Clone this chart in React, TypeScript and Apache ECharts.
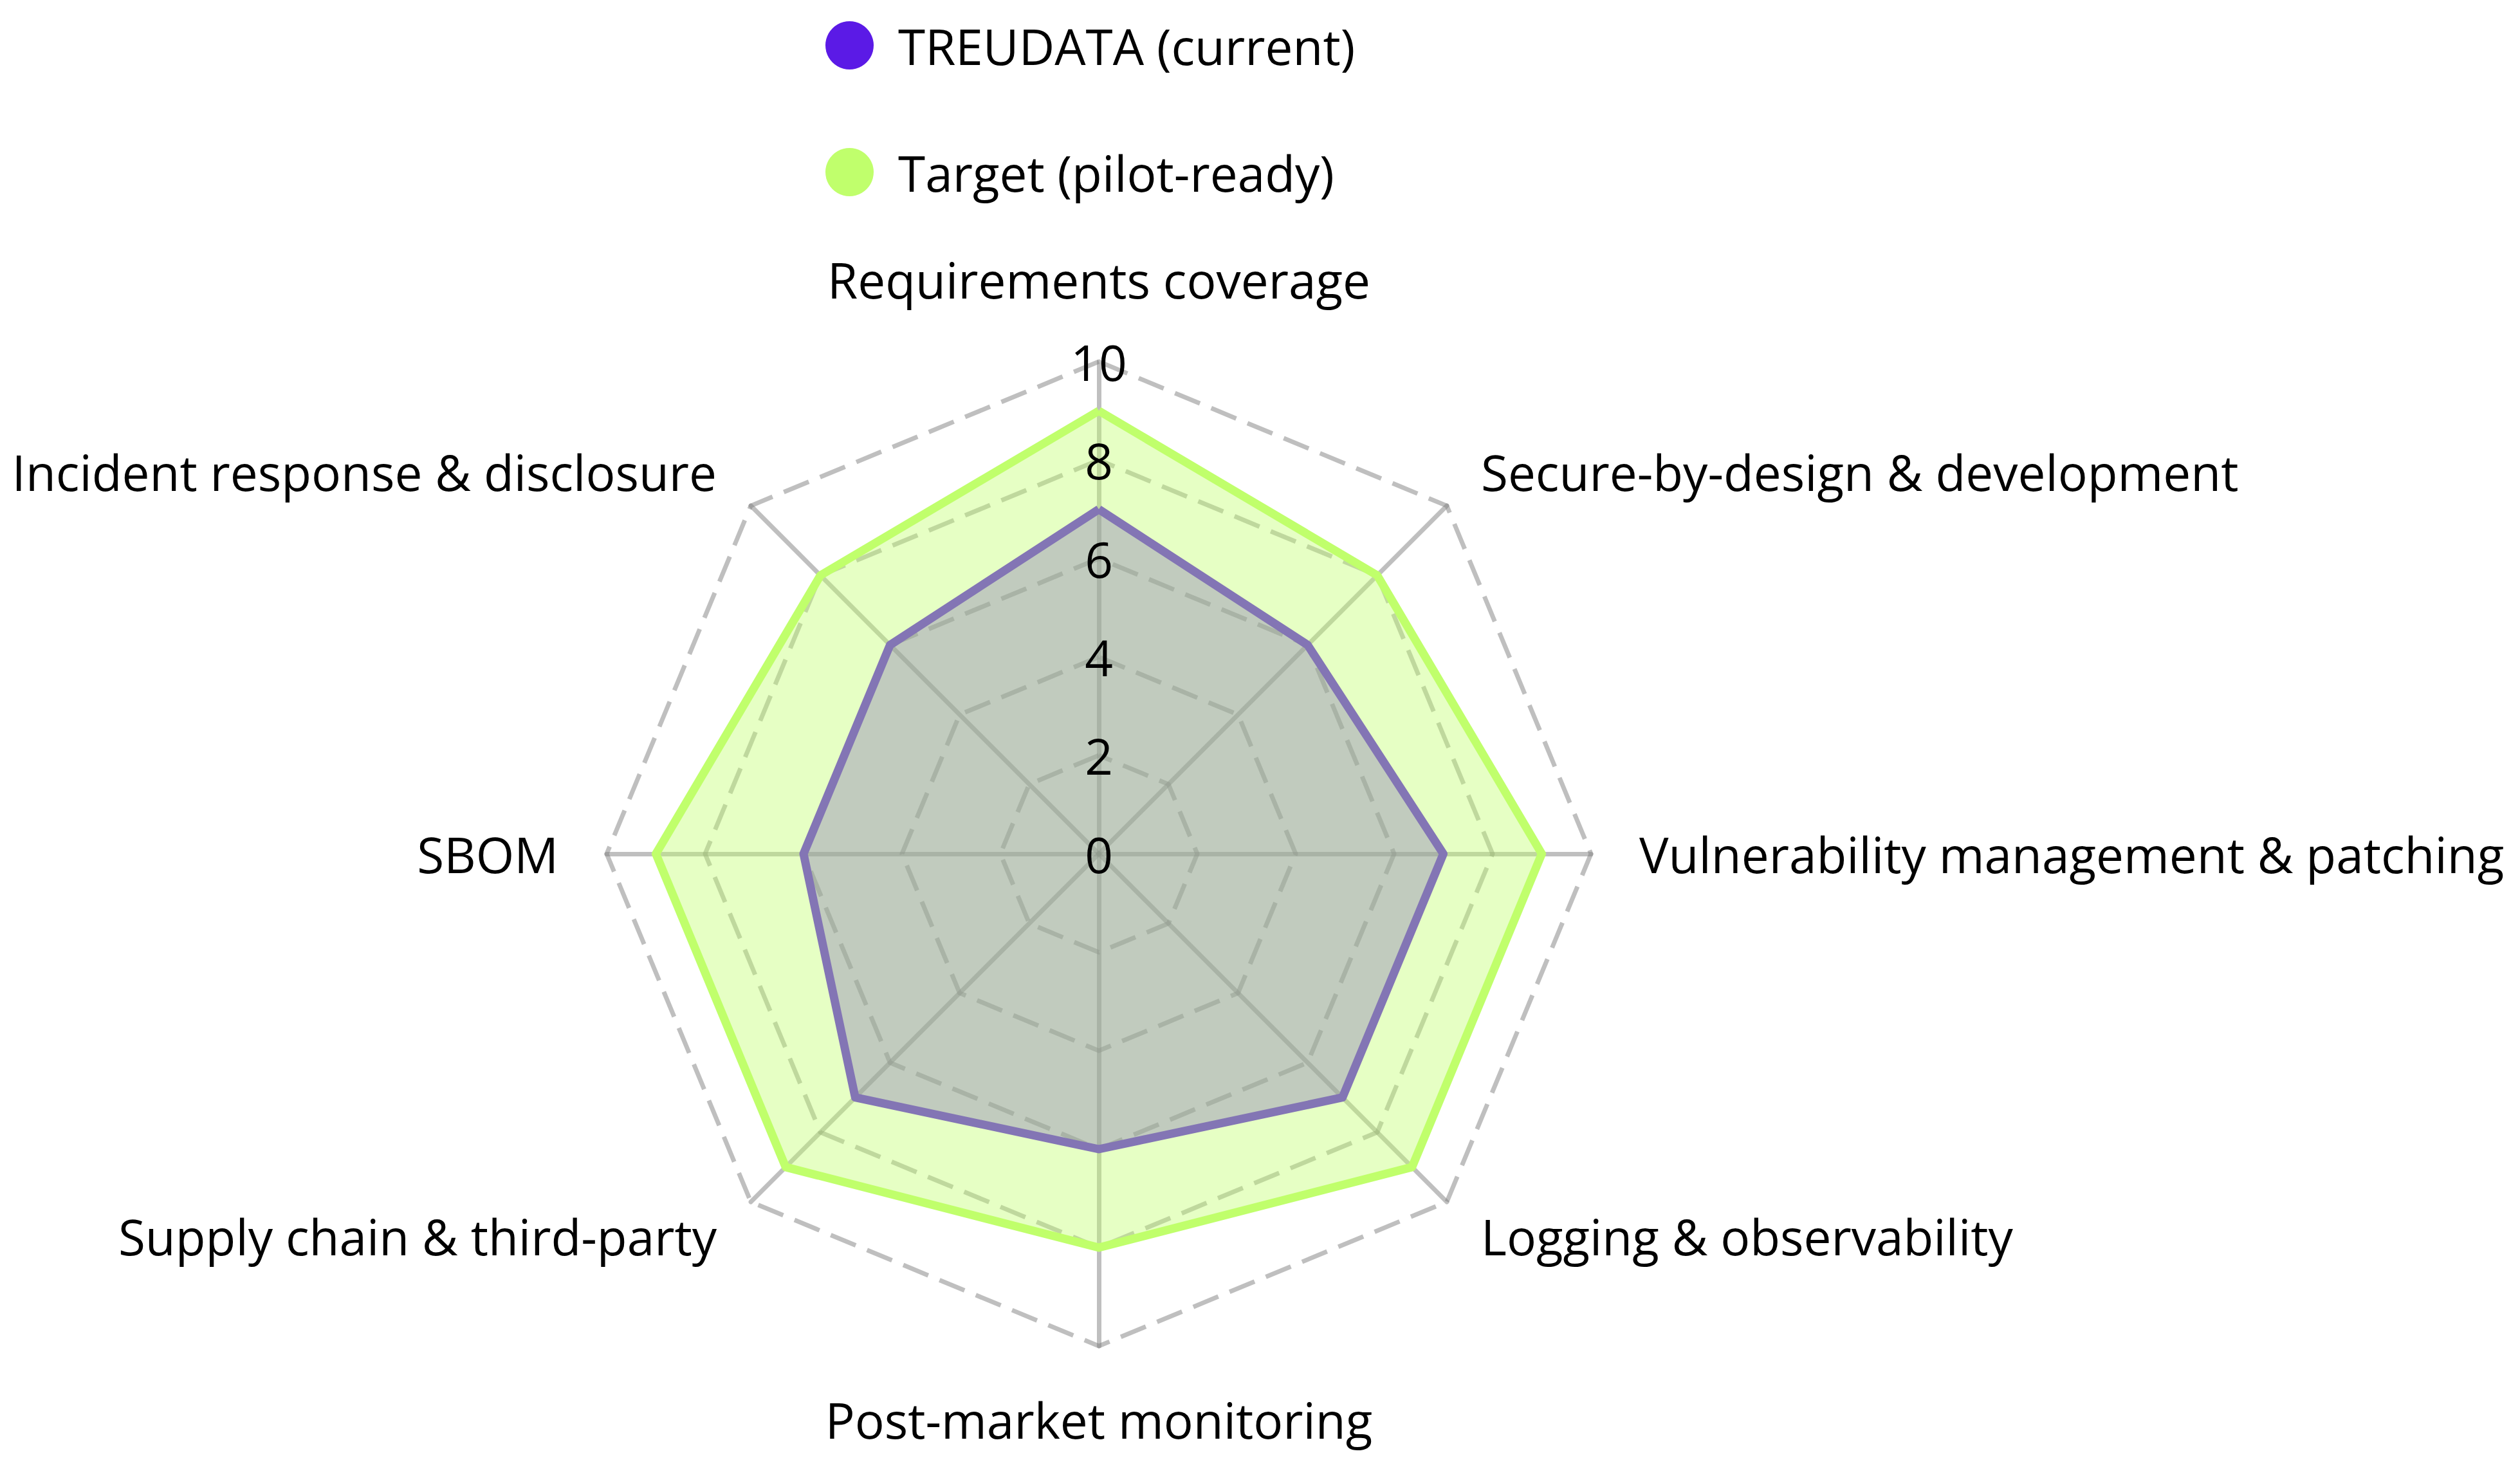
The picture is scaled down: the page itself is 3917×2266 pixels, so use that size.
import React, { useEffect, useRef } from 'react';
import * as echarts from 'echarts';

// Indicators in clockwise order starting at the top
const indicatorNames = [
  'Requirements coverage',
  'Secure-by-design & development',
  'Vulnerability management & patching',
  'Logging & observability',
  'Post-market monitoring',
  'Supply chain & third-party',
  'SBOM',
  'Incident response & disclosure',
];
const currentValues = [7, 6, 7, 7, 6, 7, 6, 6];
const targetValues = [9, 8, 9, 9, 8, 9, 9, 8];
const seriesNames = ['TREUDATA (current)', 'Target (pilot-ready)'];
const seriesColors = ['#5b1ae6', '#c0ff6c'];
const axisMin = 0;
const axisMax = 10;
const axisInterval = 2;

// ECharts places radar indicators counter-clockwise; reorder to clockwise.
function toCCW<T>(arr: T[]): T[] {
  return [arr[0], ...arr.slice(1).reverse()];
}

const FONT = "'Open Sans', 'Noto Sans', sans-serif";
const FS = 76.5;
const CENTER = [1708, 1327];
const RADIUS = 765;

export default function App() {
  const ref = useRef<HTMLDivElement>(null);
  useEffect(() => {
    document.body.style.margin = '0';
    const chart = echarts.init(ref.current!, null, { renderer: 'svg' });
    const names = toCCW(indicatorNames);
    const indicator = names.map((name) => ({ name, min: axisMin, max: axisMax }));
    const gridColor = 'rgba(128,128,128,0.5)';
    chart.setOption({
      animation: false,
      backgroundColor: '#fff',
      legend: {
        orient: 'vertical',
        left: 1278,
        top: 25,
        itemWidth: 75,
        itemHeight: 75,
        itemGap: 116,
        icon: 'circle',
        data: seriesNames,
        textStyle: {
          fontFamily: FONT,
          fontSize: FS,
          color: '#000',
          lineHeight: 75,
          padding: [0, 0, 6, 33],
        },
      },
      radar: {
        center: CENTER,
        radius: RADIUS,
        startAngle: 90,
        shape: 'polygon',
        splitNumber: 5,
        nameGap: 75,
        indicator,
        axisName: {
          color: '#000',
          fontSize: FS,
          fontFamily: FONT,
          padding: [0, 0, 15, 0],
        },
        axisLine: { lineStyle: { color: gridColor, width: 7 } },
        splitLine: { lineStyle: { color: gridColor, width: 7, type: [42, 19] } },
        splitArea: { show: false },
        axisTick: { show: false },
        axisLabel: { show: false },
      },
      // Overlay polar axis used only to print the 0..10 scale on top of the fills
      polar: { center: CENTER, radius: RADIUS },
      angleAxis: { show: false, startAngle: 90, min: 0, max: 360 },
      radiusAxis: {
        min: axisMin,
        max: axisMax,
        interval: axisInterval,
        z: 10,
        axisLine: { show: false },
        axisTick: { show: false },
        splitLine: { show: false },
        axisLabel: {
          show: true,
          fontSize: FS,
          fontFamily: FONT,
          color: '#000',
          margin: 0,
          align: 'center',
          verticalAlign: 'middle',
        },
      },
      series: [
        {
          name: seriesNames[0],
          type: 'radar',
          symbol: 'none',
          color: seriesColors[0],
          lineStyle: { width: 13, color: seriesColors[0] },
          areaStyle: { color: seriesColors[0], opacity: 0.38 },
          data: [{ name: seriesNames[0], value: toCCW(currentValues) }],
        },
        {
          name: seriesNames[1],
          type: 'radar',
          symbol: 'none',
          color: seriesColors[1],
          lineStyle: { width: 13, color: seriesColors[1] },
          areaStyle: { color: seriesColors[1], opacity: 0.4 },
          data: [{ name: seriesNames[1], value: toCCW(targetValues) }],
        },
      ],
    });
    return () => chart.dispose();
  }, []);
  return (
    <div
      ref={ref}
      style={{ position: 'fixed', left: 0, top: 0, width: '3917px', height: '2266px' }}
    />
  );
}
